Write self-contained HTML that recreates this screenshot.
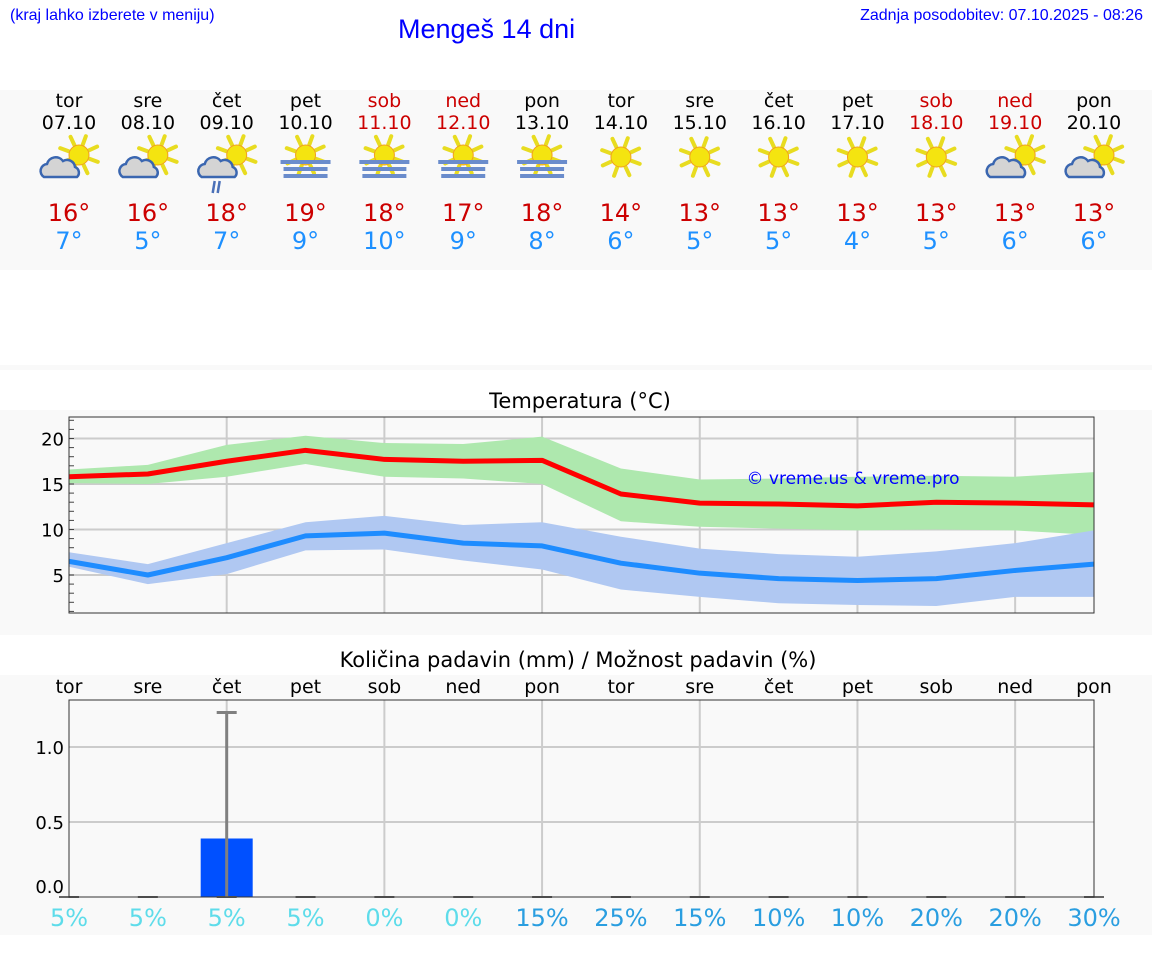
<!DOCTYPE html>
<html><head><meta charset="utf-8">
<style>
body{margin:0;width:1152px;height:975px;background:#fff;position:relative;overflow:hidden;font-family:"DejaVu Sans","Liberation Sans",sans-serif}
.a{position:absolute}
</style></head>
<body>
<div class="a" style="left:10px;top:7px;font:16px 'Liberation Sans',sans-serif;color:#00f">(kraj lahko izberete v meniju)</div>
<div class="a" style="left:398px;top:14px;font:27px 'Liberation Sans',sans-serif;color:#00f">Mengeš 14 dni</div>
<div class="a" style="right:9px;top:7px;font:16px 'Liberation Sans',sans-serif;color:#00f">Zadnja posodobitev: 07.10.2025 - 08:26</div>
<svg class="a" style="left:0;top:0" width="1152" height="975" id="svg"></svg>
<script>
const days=["tor","sre","čet","pet","sob","ned","pon","tor","sre","čet","pet","sob","ned","pon"];
const dates=["07.10","08.10","09.10","10.10","11.10","12.10","13.10","14.10","15.10","16.10","17.10","18.10","19.10","20.10"];
const weekend=[0,0,0,0,1,1,0,0,0,0,0,1,1,0];
const icons=["pc","pc","pcr","fog","fog","fog","fog","sun","sun","sun","sun","sun","pc","pc"];
const maxT=[16,16,18,19,18,17,18,14,13,13,13,13,13,13];
const minT=[7,5,7,9,10,9,8,6,5,5,4,5,6,6];
const tMax=[15.8,16.1,17.5,18.7,17.7,17.5,17.6,13.9,12.9,12.8,12.6,13.0,12.9,12.7];
const tMaxHi=[16.6,17.1,19.3,20.3,19.5,19.4,20.2,16.7,15.5,15.6,15.8,15.9,15.8,16.3];
const tMaxLo=[15.1,15.0,15.8,17.2,15.8,15.6,15.0,10.9,10.3,10.1,9.9,10.0,9.9,9.4];
const tMin=[6.5,5.0,6.9,9.3,9.6,8.5,8.2,6.3,5.2,4.6,4.4,4.6,5.5,6.2];
const tMinHi=[7.5,6.2,8.5,10.8,11.5,10.5,10.8,9.2,7.9,7.3,7.0,7.6,8.5,9.9];
const tMinLo=[5.9,4.0,5.1,7.7,7.8,6.6,5.6,3.4,2.6,1.9,1.7,1.6,2.6,2.6];
const tTicks=[5,10,15,20];
const precip=[0,0,0.39,0,0,0,0,0,0,0,0,0,0,0];
const precipHi=[0,0,1.23,0,0,0,0,0,0,0,0,0,0,0];
const pTicks=[0.0,0.5,1.0];
const chance=[5,5,5,5,0,0,15,25,15,10,10,20,20,30];

const svg=document.getElementById('svg');
const NS='http://www.w3.org/2000/svg';
function mk(tag,at,parent){const e=document.createElementNS(NS,tag);for(const k in at)e.setAttribute(k,at[k]);(parent||svg).appendChild(e);return e;}
function tx(x,y,s,size,fill,anchor){const e=mk('text',{x:x,y:y,'font-size':size,fill:fill,'text-anchor':anchor||'middle','font-family':'DejaVu Sans, Liberation Sans, sans-serif'});e.textContent=s;return e;}
const L=69,R=1094;
const X=i=>L+i*(R-L)/13;

let p;
p=mk('rect',{x:0,y:90,width:1152,height:180,fill:'#f9f9f9'});

mk('rect',{x:0,y:365,width:1152,height:5,fill:'#f9f9f9'});
p=mk('rect',{x:0,y:410,width:1152,height:225,fill:'#f9f9f9'});

p=mk('rect',{x:0,y:675,width:1152,height:260,fill:'#f9f9f9'});


function sun(g,cx,cy){
  for(let k=0;k<8;k++){const a=k*Math.PI/4+0.35;
    mk('line',{x1:cx+Math.cos(a)*11,y1:cy+Math.sin(a)*11,x2:cx+Math.cos(a)*20,y2:cy+Math.sin(a)*20,stroke:'#e8dc20','stroke-width':4,'stroke-linecap':'round'},g);}
  mk('circle',{cx:cx,cy:cy,r:10,fill:'#f4e410',stroke:'#f0a020','stroke-width':1},g);
}
function cloud(g,cx,cy){
  mk('path',{d:`M${cx-18},${cy+10} a7,7 0 0 1 3,-13 a9,9 0 0 1 16,-3 a8,8 0 0 1 12,6 a6,6 0 0 1 2,10 z`,fill:'#d4d4d4',stroke:'#3a66b0','stroke-width':2.5},g);
}
for(let i=0;i<14;i++){
  const x=X(i);const col=weekend[i]?'#cc0000':'#000';
  let t=tx(x,107,days[i],19,col);
  t=tx(x,129,dates[i],19,col);
  const g=mk('g',{});
  const ic=icons[i];
  if(ic=='sun'){sun(g,x,157);}
  else if(ic=='fog'){sun(g,x,155);
    [[160,25],[167,22],[174,22]].forEach(r=>mk('rect',{x:x-r[1],y:r[0],width:2*r[1],height:4,fill:'#6a8ccc'},g));}
  else{sun(g,x+10,155);cloud(g,x-7,167);
    if(ic=='pcr'){mk('line',{x1:x-12,y1:181,x2:x-14,y2:193,stroke:'#4a70b8','stroke-width':2.5},g);mk('line',{x1:x-7,y1:181,x2:x-9,y2:193,stroke:'#4a70b8','stroke-width':2.5},g);}
  }
  t=tx(x,221,maxT[i]+'°',24,'#cc0000');
  t=tx(x,249,minT[i]+'°',24,'#1e90ff');
}

const TT=417,TB=613;
const Yt=v=>620.5-v*9.1;
let e=tx(580,408,'Temperatura (°C)',21,'#000');
mk('rect',{x:L,y:TT,width:R-L,height:TB-TT,fill:'#f9f9f9'});
tTicks.forEach(v=>{mk('line',{x1:L,x2:R,y1:Yt(v),y2:Yt(v),stroke:'#ccc','stroke-width':2});
  const t=tx(L-5,Yt(v)+7,String(v),18,'#000','end');});
for(let v=1;v<=22;v++)mk('line',{x1:L,x2:L+5,y1:Yt(v),y2:Yt(v),stroke:'#444','stroke-width':1});
for(let i=2;i<13;i+=2)mk('line',{x1:X(i),x2:X(i),y1:TT,y2:TB,stroke:'#ccc','stroke-width':2});
function band(hi,lo,fill,name){let d='M'+hi.map((v,i)=>X(i)+','+Yt(v)).join(' L')+' L'+lo.map((v,i)=>X(i)+','+Yt(v)).reverse().join(' L')+'Z';
  const b=mk('path',{d:d,fill:fill});}
function line(v,col,name){const l=mk('polyline',{points:v.map((y,i)=>X(i)+','+Yt(y)).join(' '),fill:'none',stroke:col,'stroke-width':5,'stroke-linejoin':'round'});}
band(tMaxHi,tMaxLo,'#aee8ae','max-temp-band');
band(tMinHi,tMinLo,'#b0c8f2','min-temp-band');
line(tMax,'#ff0000','max-temp-line');
line(tMin,'#1e8cff','min-temp-line');
e=tx(853,484,'© vreme.us & vreme.pro',17,'#0000ff');
mk('rect',{x:L,y:TT,width:R-L,height:TB-TT,fill:'none',stroke:'#333','stroke-width':1});

const PT=700,PB=897;
const Yp=v=>897-v*150;
e=tx(578,667,'Količina padavin (mm) / Možnost padavin (%)',21,'#000');
for(let i=0;i<14;i++){const t=tx(X(i),693,days[i],19,'#000');}
mk('rect',{x:L,y:PT,width:R-L,height:PB-PT,fill:'#f9f9f9'});
pTicks.forEach(v=>{if(v>0)mk('line',{x1:L,x2:R,y1:Yp(v),y2:Yp(v),stroke:'#ccc','stroke-width':2});
  const t=tx(L-5,(v>0?Yp(v):886)+7,v.toFixed(1),18,'#000','end');});
for(let i=2;i<13;i+=2)mk('line',{x1:X(i),x2:X(i),y1:PT,y2:PB,stroke:'#ccc','stroke-width':2});
for(let i=0;i<14;i++){
  const x=X(i);
  const b=mk('rect',{x:x-26,y:Yp(precip[i]),width:52,height:Math.max(PB-Yp(precip[i]),0),fill:'#0050ff'});
  
  mk('line',{x1:x-10,x2:x+10,y1:PB,y2:PB,stroke:'#666','stroke-width':2});
  if(precipHi[i]>0){const g=mk('g',{});
    mk('line',{x1:x,x2:x,y1:Yp(precipHi[i]),y2:PB,stroke:'#808080','stroke-width':3},g);
    mk('line',{x1:x-10,x2:x+10,y1:Yp(precipHi[i]),y2:Yp(precipHi[i]),stroke:'#808080','stroke-width':3},g);}
  const t=tx(x,926,chance[i]+'%',24,chance[i]>=10?'#2a9ee0':'#5edcea');
}
mk('rect',{x:L,y:PT,width:R-L,height:PB-PT,fill:'none',stroke:'#333','stroke-width':1});
</script>
</body></html>
